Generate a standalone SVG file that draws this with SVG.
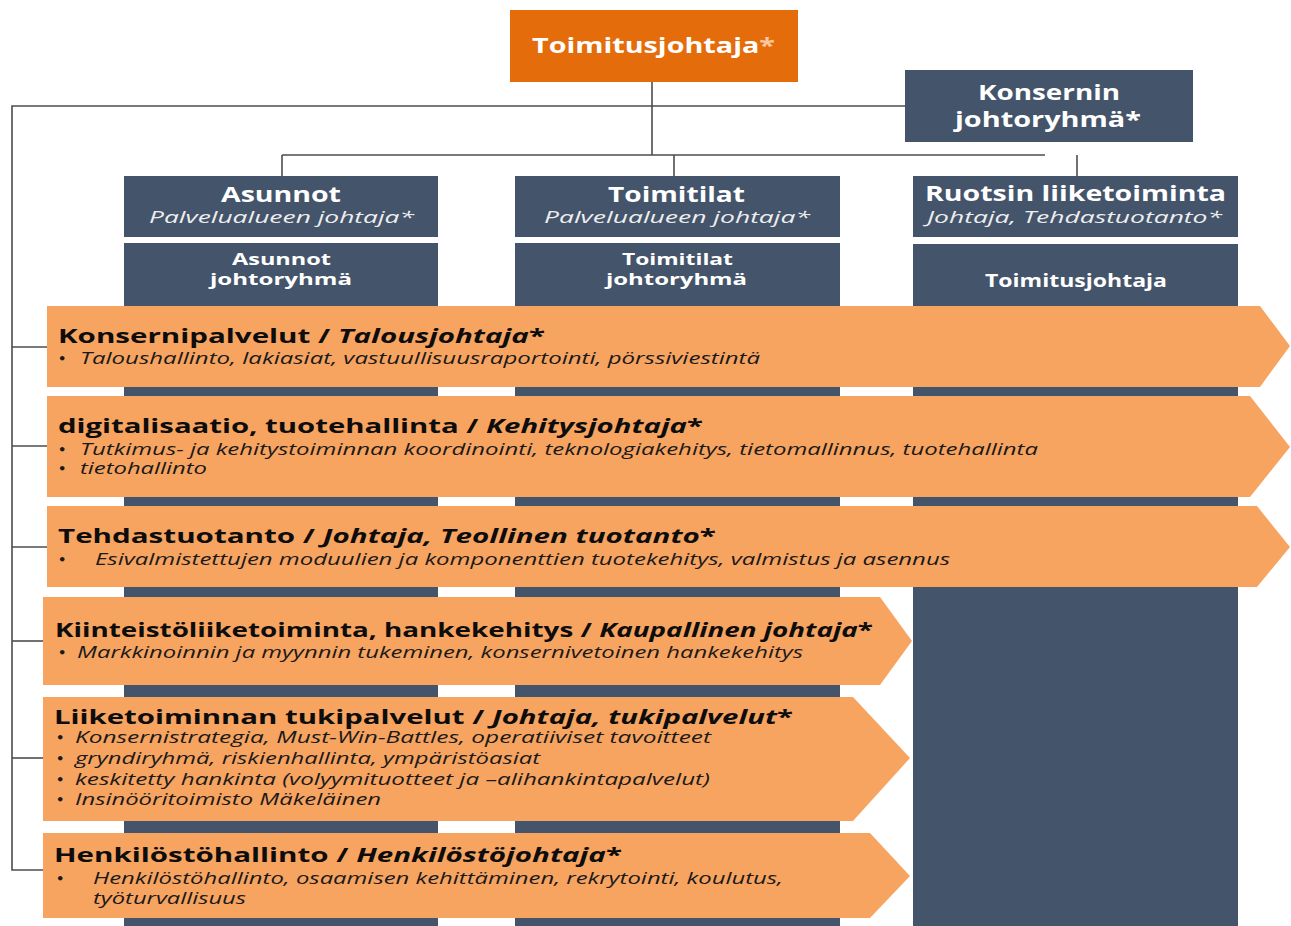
<svg xmlns="http://www.w3.org/2000/svg" width="1291" height="926" viewBox="0 0 1291 926">
<style>
.dark{fill:#44546A}
.org{fill:#E46C0A}
.arr{fill:#F8A461}
.line{stroke:#4d4d4d;stroke-width:1.6;fill:none}
.hb{font-family:"Open Sans","DejaVu Sans",sans-serif;font-weight:bold;fill:#ffffff}
.hi{font-family:"Open Sans","DejaVu Sans",sans-serif;font-style:italic;fill:#eeeeee}
.at{font-family:"Open Sans","DejaVu Sans",sans-serif;font-weight:bold;fill:#0d0d0d;font-size:20px}
.ab{font-family:"Open Sans","DejaVu Sans",sans-serif;font-style:italic;fill:#1a1a1a;font-size:15.5px}
.bul{font-family:"DejaVu Sans",sans-serif;font-weight:bold;fill:#1a1a1a;font-size:13px}
</style>

<g id="connectors">
<polyline class="line" points="905,106 12,106 12,870 43,870"/>
<line class="line" x1="12" y1="347" x2="47" y2="347"/>
<line class="line" x1="12" y1="446" x2="47" y2="446"/>
<line class="line" x1="12" y1="547" x2="47" y2="547"/>
<line class="line" x1="12" y1="641" x2="43" y2="641"/>
<line class="line" x1="12" y1="758" x2="43" y2="758"/>
<line class="line" x1="652" y1="82" x2="652" y2="155"/>
<line class="line" x1="282" y1="155" x2="1045" y2="155"/>
<line class="line" x1="282" y1="155" x2="282" y2="176"/>
<line class="line" x1="674" y1="155" x2="674" y2="176"/>
<line class="line" x1="1077" y1="155" x2="1077" y2="176"/>
</g>

<g id="toimitusjohtaja">
<rect class="org" x="510" y="10" width="288" height="72"/>
<text class="hb" x="532" y="53" font-size="22" textLength="243" lengthAdjust="spacingAndGlyphs">Toimitusjohtaja<tspan fill="#F9C8A0">*</tspan></text>
</g>

<g id="konsernin-johtoryhma">
<rect class="dark" x="905" y="70" width="288" height="72"/>
<text class="hb" x="978" y="100" font-size="22" textLength="142" lengthAdjust="spacingAndGlyphs">Konsernin</text>
<text class="hb" x="955" y="127" font-size="22" textLength="186" lengthAdjust="spacingAndGlyphs">johtoryhmä*</text>
</g>

<g id="asunnot">
<rect class="dark" x="124" y="176" width="314" height="61"/>
<rect class="dark" x="124" y="243" width="314" height="683"/>
<text class="hb" x="221" y="202" font-size="22" textLength="120" lengthAdjust="spacingAndGlyphs">Asunnot</text>
<text class="hi" x="149" y="223" font-size="17" textLength="265" lengthAdjust="spacingAndGlyphs">Palvelualueen johtaja*</text>
<text class="hb" x="232" y="265" font-size="16" textLength="99" lengthAdjust="spacingAndGlyphs">Asunnot</text>
<text class="hb" x="210" y="285" font-size="16" textLength="142" lengthAdjust="spacingAndGlyphs">johtoryhmä</text>
</g>

<g id="toimitilat">
<rect class="dark" x="515" y="176" width="325" height="61"/>
<rect class="dark" x="515" y="243" width="325" height="683"/>
<text class="hb" x="608" y="202" font-size="22" textLength="137" lengthAdjust="spacingAndGlyphs">Toimitilat</text>
<text class="hi" x="544" y="223" font-size="17" textLength="266" lengthAdjust="spacingAndGlyphs">Palvelualueen johtaja*</text>
<text class="hb" x="622" y="265" font-size="16" textLength="111" lengthAdjust="spacingAndGlyphs">Toimitilat</text>
<text class="hb" x="606" y="285" font-size="16" textLength="141" lengthAdjust="spacingAndGlyphs">johtoryhmä</text>
</g>

<g id="ruotsin-liiketoiminta">
<rect class="dark" x="913" y="176" width="325" height="61"/>
<rect class="dark" x="913" y="244" width="325" height="682"/>
<text class="hb" x="925" y="201" font-size="22" textLength="301" lengthAdjust="spacingAndGlyphs">Ruotsin liiketoiminta</text>
<text class="hi" x="927" y="223" font-size="17" textLength="295" lengthAdjust="spacingAndGlyphs">Johtaja, Tehdastuotanto*</text>
<text class="hb" x="985" y="287" font-size="18" textLength="182" lengthAdjust="spacingAndGlyphs">Toimitusjohtaja</text>
</g>

<g id="konsernipalvelut">
<polygon class="arr" points="47,306 1260,306 1290,346 1260,387 47,387"/>
<text class="at" x="58" y="343" textLength="487" lengthAdjust="spacingAndGlyphs">Konsernipalvelut / <tspan font-style="italic">Talousjohtaja</tspan>*</text>
<text class="bul" x="58" y="363">•</text>
<text class="ab" x="80" y="364" textLength="680" lengthAdjust="spacingAndGlyphs">Taloushallinto, lakiasiat, vastuullisuusraportointi,  pörssiviestintä</text>
</g>

<g id="digitalisaatio">
<polygon class="arr" points="47,396 1250,396 1290,447 1250,497 47,497"/>
<text class="at" x="58" y="433" textLength="645" lengthAdjust="spacingAndGlyphs">digitalisaatio, tuotehallinta / <tspan font-style="italic">Kehitysjohtaja</tspan>*</text>
<text class="bul" x="58" y="454">•</text>
<text class="ab" x="80" y="455" textLength="958" lengthAdjust="spacingAndGlyphs">Tutkimus- ja kehitystoiminnan koordinointi, teknologiakehitys, tietomallinnus, tuotehallinta</text>
<text class="bul" x="58" y="473">•</text>
<text class="ab" x="80" y="474" textLength="127" lengthAdjust="spacingAndGlyphs">tietohallinto</text>
</g>

<g id="tehdastuotanto">
<polygon class="arr" points="47,506 1257,506 1290,547 1257,587 47,587"/>
<text class="at" x="58" y="543" textLength="658" lengthAdjust="spacingAndGlyphs">Tehdastuotanto / <tspan font-style="italic">Johtaja, Teollinen tuotanto</tspan>*</text>
<text class="bul" x="58" y="564">•</text>
<text class="ab" x="95" y="565" textLength="855" lengthAdjust="spacingAndGlyphs">Esivalmistettujen moduulien ja komponenttien tuotekehitys, valmistus ja asennus</text>
</g>

<g id="kiinteistoliiketoiminta">
<polygon class="arr" points="43,597 880,597 912,641 880,685 43,685"/>
<text class="at" x="55" y="637" textLength="818" lengthAdjust="spacingAndGlyphs">Kiinteistöliiketoiminta,  hankekehitys  / <tspan font-style="italic">Kaupallinen johtaja</tspan>*</text>
<text class="bul" x="58" y="657">•</text>
<text class="ab" x="77" y="658" textLength="726" lengthAdjust="spacingAndGlyphs">Markkinoinnin ja myynnin tukeminen, konsernivetoinen hankekehitys</text>
</g>

<g id="tukipalvelut">
<polygon class="arr" points="43,697 853,697 910,758 853,821 43,821"/>
<text class="at" x="54" y="724" font-size="19" textLength="739" lengthAdjust="spacingAndGlyphs">Liiketoiminnan tukipalvelut / <tspan font-style="italic">Johtaja, tukipalvelut</tspan>*</text>
<text class="bul" x="56" y="742">•</text>
<text class="ab" x="75" y="743" font-size="15" textLength="636" lengthAdjust="spacingAndGlyphs">Konsernistrategia, Must-Win-Battles, operatiiviset tavoitteet</text>
<text class="bul" x="56" y="763">•</text>
<text class="ab" x="75" y="764" font-size="15" textLength="465" lengthAdjust="spacingAndGlyphs">gryndiryhmä, riskienhallinta, ympäristöasiat</text>
<text class="bul" x="56" y="784">•</text>
<text class="ab" x="75" y="785" font-size="15" textLength="635" lengthAdjust="spacingAndGlyphs">keskitetty hankinta (volyymituotteet ja –alihankintapalvelut)</text>
<text class="bul" x="56" y="804">•</text>
<text class="ab" x="75" y="805" font-size="15" textLength="306" lengthAdjust="spacingAndGlyphs">Insinööritoimisto Mäkeläinen</text>
</g>

<g id="henkilostohallinto">
<polygon class="arr" points="43,833 870,833 910,876 870,918 43,918"/>
<text class="at" x="54" y="862" textLength="568" lengthAdjust="spacingAndGlyphs">Henkilöstöhallinto / <tspan font-style="italic">Henkilöstöjohtaja</tspan>*</text>
<text class="bul" x="56" y="883">•</text>
<text class="ab" x="93" y="884" textLength="690" lengthAdjust="spacingAndGlyphs">Henkilöstöhallinto, osaamisen kehittäminen, rekrytointi, koulutus,</text>
<text class="ab" x="93" y="904" textLength="153" lengthAdjust="spacingAndGlyphs">työturvallisuus</text>
</g>
</svg>
